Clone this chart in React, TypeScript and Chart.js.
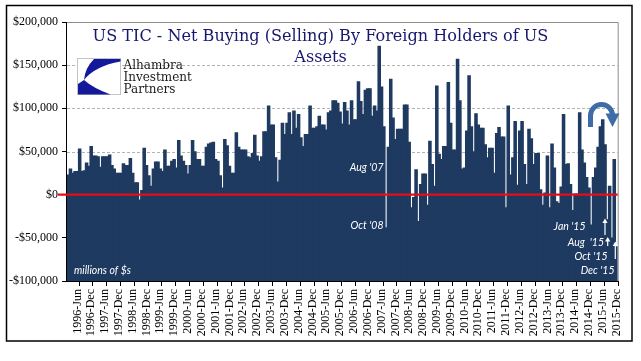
import React, { useEffect, useRef } from "react";
import { Chart, registerables } from "chart.js";

Chart.register(...registerables);

const MONTH_NAMES = ["Jan", "Feb", "Mar", "Apr", "May", "Jun", "Jul", "Aug", "Sep", "Oct", "Nov", "Dec"];
const FIRST_YEAR = 1996;
const FIRST_MONTH_INDEX = 1; // data starts Feb 1996

// Net buying (selling) by foreign holders of US assets, $ millions, Feb 1996 .. Dec 2015
const netBuying: number[] = [
  23000, 30000, 25000, 27000, 27000, 53000, 27000, 28000, 37000, 33000, 56000, 45000,
  45000, 44000, 32000, 44000, 44000, 44000, 46000, 34000, 30000, 25000, 25000, 25000,
  36000, 34000, 34000, 42000, 25000, 14000, 14000, -6000, 5000, 54000, 34000, 22000,
  10000, 30000, 38000, 38000, 30000, 27000, 52000, 33000, 33000, 39000, 41000, 31000,
  63000, 45000, 39000, 34000, 24000, 34000, 63000, 50000, 41000, 41000, 33000, 33000,
  55000, 59000, 60000, 61000, 41000, 39000, 22000, 8000, 64000, 57000, 33000, 25000,
  25000, 72000, 55000, 52000, 52000, 52000, 44000, 43000, 48000, 69000, 45000, 39000,
  44000, 73000, 73000, 103000, 81000, 81000, 43000, 15000, 40000, 83000, 70000, 83000,
  95000, 70000, 97000, 77000, 93000, 66000, 56000, 70000, 70000, 103000, 77000, 77000,
  79000, 91000, 81000, 81000, 75000, 95000, 97000, 109000, 109000, 106000, 96000, 82000,
  107000, 97000, 81000, 109000, 87000, 87000, 131000, 108000, 93000, 121000, 123000, 123000,
  91000, 103000, 97000, 172000, 125000, 79000, -38000, 55000, 134000, 89000, 64000, 76000,
  76000, 76000, 104000, 104000, 61000, -15000, -3000, 29000, -31000, 12000, 24000, 24000,
  -12000, 62000, 35000, 10000, 126000, 47000, 41000, 56000, 56000, 130000, 83000, 52000,
  52000, 157000, 109000, 30000, 31000, 74000, 138000, 79000, 50000, 94000, 81000, 77000,
  77000, 58000, 43000, 54000, 54000, 25000, 71000, 78000, 67000, 67000, -15000, 103000,
  23000, 43000, 85000, 11000, 74000, 85000, 35000, 12000, 76000, 65000, 35000, 48000,
  48000, 6000, -12000, 2000, 45000, -15000, 59000, 31000, -8000, -10000, 9000, 93000,
  35000, 36000, 12000, -18000, 1000, 1000, 95000, 52000, 37000, 20000, 8000,
  -35000, 20000, 31000, 55000, 79000, 87000, 58000, -29000, 10000, -50000, 41000, -60000,
];

const categories: string[] = netBuying.map((_, i) => {
  const m = FIRST_MONTH_INDEX + i;
  return `${FIRST_YEAR + Math.floor(m / 12)}-${MONTH_NAMES[m % 12]}`;
});

const labelledMonths = ["Jun", "Dec"];
const yTickValues = [-100000, -50000, 0, 50000, 100000, 150000, 200000];
const gridValues = [50000, 100000, 150000];
const AXIS_MIN = -100000;
const AXIS_MAX = 200000;

const titleLines = ["US TIC - Net Buying (Selling) By Foreign Holders of US", "Assets"];
const logoLines = ["Alhambra", "Investment", "Partners"];

// Text notes drawn on the plot (anchor x, baseline y)
const notes = [
  { text: "Aug '07", x: 383.5, y: 170.5, align: "right" },
  { text: "Oct '08", x: 383.5, y: 229, align: "right" },
  { text: "Jan '15", x: 585.5, y: 229.5, align: "right" },
  { text: "Aug  '15", x: 604, y: 245.5, align: "right" },
  { text: "Oct '15", x: 607.5, y: 260, align: "right" },
  { text: "Dec '15", x: 614.5, y: 274, align: "right" },
  { text: "millions of $s", x: 74, y: 274, align: "left" },
];
const pointerArrows = [
  { x: 605, y1: 235, y2: 218.5 },
  { x: 607.7, y1: 246, y2: 237 },
  { x: 615.3, y1: 259, y2: 241.5 },
];

const BAR_COLOR = "#1f3a60";
const SERIF = "'Liberation Serif', 'Times New Roman', serif";

function formatMoney(v: number): string {
  const s = "$" + Math.abs(v).toLocaleString("en-US");
  return v < 0 ? "-" + s : s;
}

const decorPlugin = {
  id: "decor",
  beforeDraw(chart: any) {
    const { ctx, width, height } = chart;
    ctx.save();
    ctx.fillStyle = "#ffffff";
    ctx.fillRect(0, 0, width, height);
    ctx.restore();
  },
  beforeDatasetsDraw(chart: any) {
    const { ctx, chartArea } = chart;
    const y = chart.scales.y;
    ctx.save();
    ctx.strokeStyle = "#b3b3b3";
    ctx.lineWidth = 1;
    ctx.setLineDash([3, 2]);
    gridValues.forEach((v) => {
      const py = Math.round(y.getPixelForValue(v)) + 0.5;
      ctx.beginPath();
      ctx.moveTo(chartArea.left, py);
      ctx.lineTo(chartArea.right, py);
      ctx.stroke();
    });
    ctx.restore();
  },
  afterDraw(chart: any) {
    const { ctx, chartArea, width } = chart;
    const xs = chart.scales.x;
    const ys = chart.scales.y;
    ctx.save();

    // plot frame top/right (gray)
    ctx.strokeStyle = "#8f8f8f";
    ctx.lineWidth = 1;
    ctx.beginPath();
    ctx.moveTo(chartArea.left, Math.round(chartArea.top) + 0.5);
    ctx.lineTo(chartArea.right + 0.5, Math.round(chartArea.top) + 0.5);
    ctx.lineTo(chartArea.right + 0.5, chartArea.bottom);
    ctx.stroke();

    // axes (black)
    ctx.strokeStyle = "#000";
    ctx.beginPath();
    ctx.moveTo(chartArea.left - 0.5, chartArea.top);
    ctx.lineTo(chartArea.left - 0.5, chartArea.bottom + 1);
    ctx.moveTo(chartArea.left - 1, chartArea.bottom + 0.5);
    ctx.lineTo(chartArea.right + 1, chartArea.bottom + 0.5);
    ctx.stroke();

    // x tick marks between categories after each labelled month
    ctx.beginPath();
    categories.forEach((c, i) => {
      if (labelledMonths.includes(c.slice(5))) {
        const px = Math.round(xs.getPixelForValue(i + 0.5)) + 0.5;
        ctx.moveTo(px, chartArea.bottom);
        ctx.lineTo(px, chartArea.bottom + 5);
      }
    });
    ctx.stroke();

    // red zero line
    const y0 = ys.getPixelForValue(0);
    ctx.strokeStyle = "#e0101a";
    ctx.lineWidth = 2.2;
    ctx.beginPath();
    ctx.moveTo(chartArea.left - 9, y0);
    ctx.lineTo(chartArea.right, y0);
    ctx.stroke();

    // title
    ctx.fillStyle = "#17176e";
    ctx.textAlign = "center";
    ctx.textBaseline = "alphabetic";
    ctx.font = `16px 'DejaVu Serif', serif`;
    const w = ctx.measureText(titleLines[0]).width;
    const size = (16 * 456) / w;
    ctx.font = `${size}px 'DejaVu Serif', serif`;
    ctx.fillText(titleLines[0], width / 2, 40.7);
    ctx.fillText(titleLines[1], width / 2, 61.7);

    // logo box
    ctx.fillStyle = "#ffffff";
    ctx.fillRect(77.5, 58.5, 43, 36);
    ctx.strokeStyle = "#c4c4c4";
    ctx.lineWidth = 1;
    ctx.strokeRect(77.5, 58.5, 43, 36);
    ctx.fillStyle = "#14199c";
    ctx.beginPath();
    ctx.moveTo(94, 59);
    ctx.lineTo(120.5, 59);
    ctx.lineTo(120.5, 61.5);
    ctx.quadraticCurveTo(95, 66, 84, 80);
    ctx.quadraticCurveTo(93, 88, 110.5, 94.5);
    ctx.lineTo(78, 94.5);
    ctx.lineTo(78, 84);
    ctx.lineTo(84, 80);
    ctx.quadraticCurveTo(85, 68, 94, 59);
    ctx.closePath();
    ctx.fill();

    ctx.fillStyle = "#1b1b1b";
    ctx.textAlign = "left";
    ctx.font = `12px 'DejaVu Serif', serif`;
    ctx.fillText(logoLines[0], 123.5, 68.5);
    ctx.fillText(logoLines[1], 123.5, 80.5);
    ctx.fillText(logoLines[2], 123.5, 92.5);

    // notes
    ctx.fillStyle = "#ffffff";
    ctx.font = `italic 10.5px Lato, 'Liberation Sans', sans-serif`;
    notes.forEach((n) => {
      ctx.textAlign = n.align as CanvasTextAlign;
      ctx.fillText(n.text, n.x, n.y);
    });

    // pointer arrows
    ctx.strokeStyle = "#ffffff";
    ctx.lineWidth = 1.2;
    pointerArrows.forEach((a) => {
      ctx.beginPath();
      ctx.moveTo(a.x, a.y1);
      ctx.lineTo(a.x, a.y2 + 2);
      ctx.stroke();
      ctx.beginPath();
      ctx.moveTo(a.x, a.y2);
      ctx.lineTo(a.x - 2.6, a.y2 + 4.5);
      ctx.lineTo(a.x + 2.6, a.y2 + 4.5);
      ctx.closePath();
      ctx.fillStyle = "#ffffff";
      ctx.fill();
    });

    // curved blue arrow
    ctx.strokeStyle = "#3f6ca8";
    ctx.lineWidth = 5;
    ctx.beginPath();
    ctx.moveTo(590.5, 127);
    ctx.lineTo(590.5, 115.5);
    ctx.arc(601.5, 115.5, 11, Math.PI, 0, false);
    ctx.stroke();
    ctx.fillStyle = "#3f6ca8";
    ctx.beginPath();
    ctx.moveTo(605.5, 113.5);
    ctx.lineTo(619.5, 113.5);
    ctx.lineTo(612.5, 127);
    ctx.closePath();
    ctx.fill();

    // outer frame
    ctx.strokeStyle = "#000";
    ctx.lineWidth = 1.5;
    ctx.strokeRect(6.5, 5.5, 625.5, 335.5);

    ctx.restore();
  },
};

export default function App() {
  const canvasRef = useRef<HTMLCanvasElement | null>(null);

  useEffect(() => {
    const canvas = canvasRef.current;
    if (!canvas) return;
    const chart = new Chart(canvas, {
      type: "bar",
      data: {
        labels: categories,
        datasets: [
          {
            data: netBuying.map((v) => [AXIS_MIN, v]) as any,
            backgroundColor: BAR_COLOR,
            borderWidth: 0,
            barThickness: 2.9,
          },
        ],
      },
      options: {
        responsive: false,
        animation: false,
        devicePixelRatio: 1,
        events: [],
        layout: { padding: { left: 8, right: 23.3, top: 22, bottom: 20 } },
        plugins: {
          legend: { display: false },
          title: { display: false },
          tooltip: { enabled: false },
        },
        scales: {
          x: {
            type: "category",
            offset: true,
            grid: {
              display: true,
              drawOnChartArea: false,
              drawTicks: true,
              tickLength: 4,
              color: "rgba(0,0,0,0)",
              offset: false,
            },
            border: { display: false },
            ticks: {
              autoSkip: false,
              minRotation: 90,
              maxRotation: 90,
              padding: 4,
              color: "#000",
              font: { family: SERIF, size: 12 },
            },
            afterBuildTicks: (axis: any) => {
              axis.ticks = axis.ticks.filter((t: any) =>
                labelledMonths.includes(categories[t.value].slice(5))
              );
            },
            afterFit: (scale: any) => {
              scale.height = 60;
            },
          },
          y: {
            min: AXIS_MIN,
            max: AXIS_MAX,
            afterBuildTicks: (axis: any) => {
              axis.ticks = yTickValues.map((v) => ({ value: v }));
            },
            grid: {
              display: true,
              drawOnChartArea: false,
              drawTicks: true,
              tickLength: 5,
              color: "#000",
              tickColor: "#000",
            },
            border: { display: false },
            ticks: {
              padding: 4,
              color: "#000",
              font: { family: SERIF, size: 12 },
              callback: (v: any) => formatMoney(Number(v)),
            },
            afterFit: (scale: any) => {
              scale.width = 59;
            },
          },
        },
      },
      plugins: [decorPlugin],
    });
    return () => chart.destroy();
  }, []);

  return (
    <div style={{ position: "fixed", left: 0, top: 0, width: 641, height: 361 }}>
      <canvas ref={canvasRef} width={641} height={361} style={{ display: "block" }} />
    </div>
  );
}
